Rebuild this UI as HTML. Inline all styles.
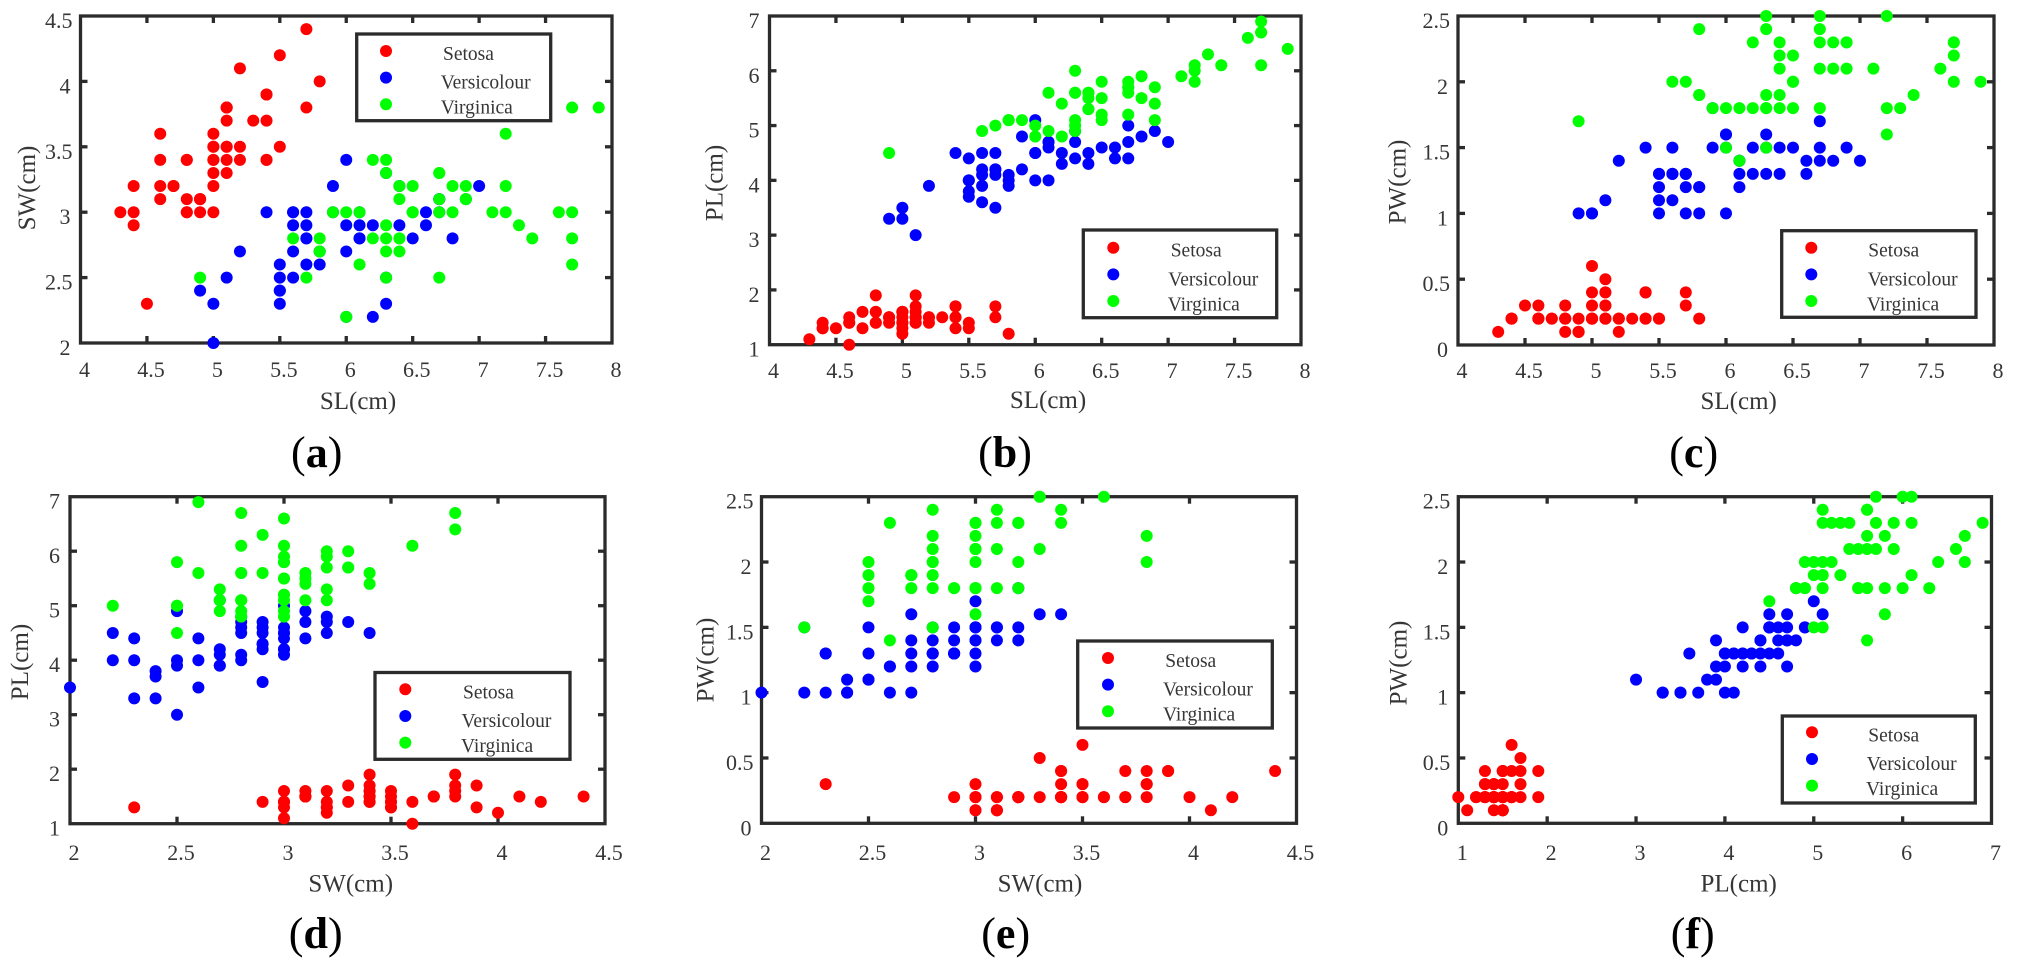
<!DOCTYPE html>
<html>
<head>
<meta charset="utf-8">
<title>Iris scatter plots</title>
<style>
html,body{margin:0;padding:0;background:#fff;}
svg{display:block;}
text{font-family:"Liberation Serif",serif;fill:#363636;}
</style>
</head>
<body>
<svg id="figure" xmlns="http://www.w3.org/2000/svg" width="2021" height="967" viewBox="0 0 2021 967"></svg>
<script>
const setosaSL = [5.1,4.9,4.7,4.6,5.0,5.4,4.6,5.0,4.4,4.9,5.4,4.8,4.8,4.3,5.8,5.7,5.4,5.1,5.7,5.1,5.4,5.1,4.6,5.1,4.8,5.0,5.0,5.2,5.2,4.7,4.8,5.4,5.2,5.5,4.9,5.0,5.5,4.9,4.4,5.1,5.0,4.5,4.4,5.0,5.1,4.8,5.1,4.6,5.3,5.0];
const setosaSW = [3.5,3.0,3.2,3.1,3.6,3.9,3.4,3.4,2.9,3.1,3.7,3.4,3.0,3.0,4.0,4.4,3.9,3.5,3.8,3.8,3.4,3.7,3.6,3.3,3.4,3.0,3.4,3.5,3.4,3.2,3.1,3.4,4.1,4.2,3.1,3.2,3.5,3.1,3.0,3.4,3.5,2.3,3.2,3.5,3.8,3.0,3.8,3.2,3.7,3.3];
const setosaPL = [1.4,1.4,1.3,1.5,1.4,1.7,1.4,1.5,1.4,1.5,1.5,1.6,1.4,1.1,1.2,1.5,1.3,1.4,1.7,1.5,1.7,1.5,1.0,1.7,1.9,1.6,1.6,1.5,1.4,1.6,1.6,1.5,1.5,1.4,1.5,1.2,1.3,1.5,1.3,1.5,1.3,1.3,1.3,1.6,1.9,1.4,1.6,1.4,1.5,1.4];
const setosaPW = [0.2,0.2,0.2,0.2,0.2,0.4,0.3,0.2,0.2,0.1,0.2,0.2,0.1,0.1,0.2,0.4,0.4,0.3,0.3,0.3,0.2,0.4,0.2,0.5,0.2,0.2,0.4,0.2,0.2,0.2,0.2,0.4,0.1,0.2,0.1,0.2,0.2,0.1,0.2,0.2,0.3,0.3,0.2,0.6,0.4,0.3,0.2,0.2,0.2,0.2];
const versicolourSL = [7.0,6.4,6.9,5.5,6.5,5.7,6.3,4.9,6.6,5.2,5.0,5.9,6.0,6.1,5.6,6.7,5.6,5.8,6.2,5.6,5.9,6.1,6.3,6.1,6.4,6.6,6.8,6.7,6.0,5.7,5.5,5.5,5.8,6.0,5.4,6.0,6.7,6.3,5.6,5.5,5.5,6.1,5.8,5.0,5.6,5.7,5.7,6.2,5.1,5.7];
const versicolourSW = [3.2,3.2,3.1,2.3,2.8,2.8,3.3,2.4,2.9,2.7,2.0,3.0,2.2,2.9,2.9,3.1,3.0,2.7,2.2,2.5,3.2,2.8,2.5,2.8,2.9,3.0,2.8,3.0,2.9,2.6,2.4,2.4,2.7,2.7,3.0,3.4,3.1,2.3,3.0,2.5,2.6,3.0,2.6,2.3,2.7,3.0,2.9,2.9,2.5,2.8];
const versicolourPL = [4.7,4.5,4.9,4.0,4.6,4.5,4.7,3.3,4.6,3.9,3.5,4.2,4.0,4.7,3.6,4.4,4.5,4.1,4.5,3.9,4.8,4.0,4.9,4.7,4.3,4.4,4.8,5.0,4.5,3.5,3.8,3.7,3.9,5.1,4.5,4.5,4.7,4.4,4.1,4.0,4.4,4.6,4.0,3.3,4.2,4.2,4.2,4.3,3.0,4.1];
const versicolourPW = [1.4,1.5,1.5,1.3,1.5,1.3,1.6,1.0,1.3,1.4,1.0,1.5,1.0,1.4,1.3,1.4,1.5,1.0,1.5,1.1,1.8,1.3,1.5,1.2,1.3,1.4,1.4,1.7,1.5,1.0,1.1,1.0,1.2,1.6,1.5,1.6,1.5,1.3,1.3,1.3,1.2,1.4,1.2,1.0,1.3,1.2,1.3,1.3,1.1,1.3];
const virginicaSL = [6.3,5.8,7.1,6.3,6.5,7.6,4.9,7.3,6.7,7.2,6.5,6.4,6.8,5.7,5.8,6.4,6.5,7.7,7.7,6.0,6.9,5.6,7.7,6.3,6.7,7.2,6.2,6.1,6.4,7.2,7.4,7.9,6.4,6.3,6.1,7.7,6.3,6.4,6.0,6.9,6.7,6.9,5.8,6.8,6.7,6.7,6.3,6.5,6.2,5.9];
const virginicaSW = [3.3,2.7,3.0,2.9,3.0,3.0,2.5,2.9,2.5,3.6,3.2,2.7,3.0,2.5,2.8,3.2,3.0,3.8,2.6,2.2,3.2,2.8,2.8,2.7,3.3,3.2,2.8,3.0,2.8,3.0,2.8,3.8,2.8,2.8,2.6,3.0,3.4,3.1,3.0,3.1,3.1,3.1,2.7,3.2,3.3,3.0,2.5,3.0,3.4,3.0];
const virginicaPL = [6.0,5.1,5.9,5.6,5.8,6.6,4.5,6.3,5.8,6.1,5.1,5.3,5.5,5.0,5.1,5.3,5.5,6.7,6.9,5.0,5.7,4.9,6.7,4.9,5.7,6.0,4.8,4.9,5.6,5.8,6.1,6.4,5.6,5.1,5.6,6.1,5.6,5.5,4.8,5.4,5.6,5.1,5.1,5.9,5.7,5.2,5.0,5.2,5.4,5.1];
const virginicaPW = [2.5,1.9,2.1,1.8,2.2,2.1,1.7,1.8,1.8,2.5,2.0,1.9,2.1,2.0,2.4,2.3,1.8,2.2,2.3,1.5,2.3,2.0,2.0,1.8,2.1,1.8,1.8,1.8,2.1,1.6,1.9,2.0,2.2,1.5,1.4,2.3,2.4,1.8,1.8,2.1,2.4,2.3,1.9,2.3,2.5,2.3,1.9,2.0,2.3,1.8];

// Tick labels
const ticksSL = [4,4.5,5,5.5,6,6.5,7,7.5,8];
const ticksSW = [2,2.5,3,3.5,4,4.5];
const ticksPL = [1,2,3,4,5,6,7];
const ticksPW = [0,0.5,1,1.5,2,2.5];

// Categories
const speciesNames = ["Setosa","Versicolour","Virginica"];
const speciesColors = ["#ff0000","#0000ff","#00ff00"];
const measurements = {
  SL:[setosaSL,versicolourSL,virginicaSL],
  SW:[setosaSW,versicolourSW,virginicaSW],
  PL:[setosaPL,versicolourPL,virginicaPL],
  PW:[setosaPW,versicolourPW,virginicaPW]
};
const tickSets = {SL:ticksSL,SW:ticksSW,PL:ticksPL,PW:ticksPW};

// Panel layout (separate from the data)
const panels = [
 {id:"a",xv:"SL",yv:"SW",l:80.5,r:612,t:16,b:343,tb:377,xc:358,xb:409,yx:35,yc:188,cx:316.7,cb:467,lg:[356.7,34,550.7,120.7,386,51,443,440.7,440.7]},
 {id:"b",xv:"SL",yv:"PL",l:769.5,r:1301,t:16,b:344.7,tb:378,xc:1048,xb:408,yx:722.7,yc:183,cx:1005,cb:467,lg:[1083.3,230,1276.7,317.7,1113.3,247.7,1170.7,1168.3,1167.7]},
 {id:"c",xv:"SL",yv:"PW",l:1458,r:1994,t:16,b:345,tb:378,xc:1738.7,xb:409,yx:1405.7,yc:182,cx:1693.7,cb:467,lg:[1781.7,230.7,1976,317.3,1811.3,247.7,1868.3,1867.7,1867]},
 {id:"d",xv:"SW",yv:"PL",l:70,r:605,t:496.7,b:823.7,tb:860,xc:350.7,xb:891.7,yx:28,yc:662,cx:315.7,cb:948,lg:[375,672.5,570,759.3,405.3,689.3,463,461.5,461]},
 {id:"e",xv:"SW",yv:"PW",l:761.5,r:1296.5,t:496.7,b:823.3,tb:860,xc:1040,xb:891.7,yx:713.3,yc:660,cx:1005.7,cb:948,lg:[1077.7,641,1272.3,728,1108,658,1165.3,1163,1163]},
 {id:"f",xv:"PL",yv:"PW",l:1458.3,r:1991.5,t:496.7,b:823.3,tb:860,xc:1738.7,xb:891.7,yx:1406.7,yc:663,cx:1692.7,cb:948,lg:[1782.3,716,1975.3,803,1812,732.3,1868.3,1866.7,1866]}
];

const SVGNS = "http://www.w3.org/2000/svg";
const svg = document.getElementById("figure");
const AXIS = "#2b2b2b";
const AXIS_W = 3.3;
const DOT_R = 6;

function make(parent, tag, props, txt){
  const e = document.createElementNS(SVGNS, tag);
  for (const k in props) e.setAttribute(k, props[k]);
  if (txt !== undefined) e.textContent = txt;
  parent.appendChild(e);
  return e;
}
function linScale(d0, d1, r0, r1){
  return function(v){ return r0 + (v - d0) * (r1 - r0) / (d1 - d0); };
}

panels.forEach(function(p){
  const g = make(svg, "g", {});
  
  

  const xt = tickSets[p.xv], yt = tickSets[p.yv];
  const xs = linScale(xt[0], xt[xt.length-1], p.l, p.r);
  const ys = linScale(yt[0], yt[yt.length-1], p.b, p.t);

  // axes frame
  const frame = make(g, "rect", {x:p.l, y:p.t, width:p.r-p.l, height:p.b-p.t, fill:"none", stroke:AXIS, "stroke-width":AXIS_W});
  
  

  // x ticks + labels
  xt.forEach(function(v){
    const x = xs(v);
    if (v !== xt[0] && v !== xt[xt.length-1]) {
      const t1 = make(g, "line", {x1:x, x2:x, y1:p.b, y2:p.b-7, stroke:AXIS, "stroke-width":AXIS_W});
      
      
      const t2 = make(g, "line", {x1:x, x2:x, y1:p.t, y2:p.t+7, stroke:AXIS, "stroke-width":AXIS_W});
      
      
    }
    const lbl = make(g, "text", {x:x+4, y:p.tb, "font-size":22, "text-anchor":"middle"}, String(v));
    
    
  });

  // y ticks + labels
  yt.forEach(function(v){
    const y = ys(v);
    if (v !== yt[0] && v !== yt[yt.length-1]) {
      const t1 = make(g, "line", {x1:p.l, x2:p.l+7, y1:y, y2:y, stroke:AXIS, "stroke-width":AXIS_W});
      
      
      const t2 = make(g, "line", {x1:p.r, x2:p.r-7, y1:y, y2:y, stroke:AXIS, "stroke-width":AXIS_W});
      
      
    }
    const lbl = make(g, "text", {x:p.l-8-(Number.isInteger(v)?2:0), y:y+12, "font-size":22, "text-anchor":"end"}, String(v));
    
    
  });

  // axis titles
  const xTitle = make(g, "text", {x:p.xc, y:p.xb, "font-size":25, "text-anchor":"middle"}, p.xv + "(cm)");
  
  
  const yTitle = make(g, "text", {x:p.yx, y:p.yc, "font-size":25, "text-anchor":"middle", transform:"rotate(-90 "+p.yx+" "+p.yc+")"}, p.yv + "(cm)");
  
  

  // points
  speciesNames.forEach(function(name, s){
    const xd = measurements[p.xv][s], yd = measurements[p.yv][s];
    const sg = make(g, "g", {fill:speciesColors[s]});
    
    
    xd.forEach(function(xv, i){
      const c = make(sg, "circle", {cx:xs(xv), cy:ys(yd[i]), r:DOT_R});
      
      
    });
  });

  // legend
  const L = p.lg;
  const lg = make(g, "g", {});
  
  
  const box = make(lg, "rect", {x:L[0], y:L[1], width:L[2]-L[0], height:L[3]-L[1], fill:"#fff", stroke:AXIS, "stroke-width":AXIS_W});
  
  
  const textOffsets = [9, 37.7, 62.7];
  speciesNames.forEach(function(name, s){
    const dy = L[5] + s * 26.65;
    const d = make(lg, "circle", {cx:L[4], cy:dy, r:DOT_R, fill:speciesColors[s]});
    
    
    const tx = make(lg, "text", {x:L[6+s], y:L[5]+textOffsets[s], "font-size":19.5}, name);
    
    
  });

  // caption
  const cap = make(g, "text", {x:p.cx, y:p.cb, "font-size":44, "text-anchor":"middle", style:"fill:#000"});
  
  
  make(cap, "tspan", {}, "(");
  make(cap, "tspan", {"font-weight":"bold"}, p.id);
  make(cap, "tspan", {}, ")");
});
</script>
</body>
</html>
